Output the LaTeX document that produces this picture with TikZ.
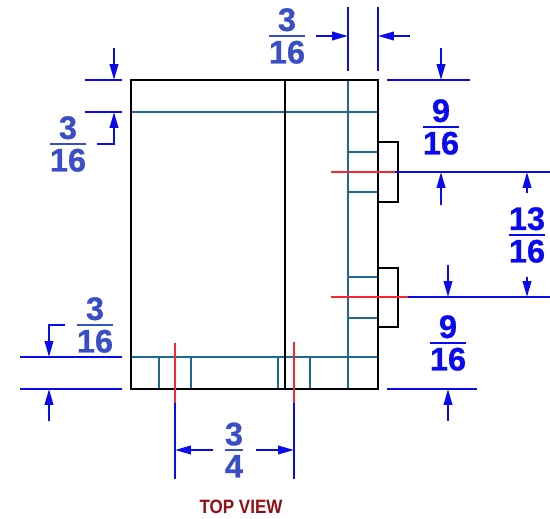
\documentclass[tikz,border=0pt]{standalone}
\usepackage{fontspec}
\setmainfont{Liberation Sans}
\newfontfamily\dimfont[BoldFeatures={FakeBold=0.8}]{Liberation Sans}
\usetikzlibrary{arrows.meta}
\definecolor{dimblue}{RGB}{10,10,240}
\definecolor{softblue}{RGB}{58,78,200}
\definecolor{hiddenblue}{RGB}{30,105,145}
\definecolor{centerred}{RGB}{245,40,50}
\definecolor{titlered}{RGB}{145,15,20}
\newcommand{\dimfrac}[2]{\vbox{\offinterlineskip\halign{\hfil##\hfil\cr #1\cr
	\noalign{\kern2.1pt\hrule height 1.2pt\kern2.1pt} #2\cr}}}
\tikzset{
	outline/.style={draw=black,line width=1.2pt},
	hidden/.style={draw=hiddenblue,line width=1.2pt},
	longhidden/.style={hidden,dash pattern=on 14pt off 0.25pt},
	centerline/.style={draw=centerred,line width=1.2pt},
	dimline/.style={draw=dimblue,line width=1.2pt},
	dimarrow/.style={dimline,-{Triangle[length=9pt,width=4.8pt]}},
	fraclabel/.style={text=dimblue,font=\fontsize{18.5}{20}\dimfont\bfseries,inner sep=0pt},
	softlabel/.style={fraclabel,text=softblue}
}
\begin{document}
\begin{tikzpicture}[x=0.02cm,y=-0.02cm]
	\useasboundingbox (0,0) rectangle (550,519);
	% hidden lines
	\draw[longhidden] (131,112) -- (378,112);
	\draw[longhidden] (131,357) -- (378,357);
	\draw[longhidden] (348,80) -- (348,389);
	\foreach \y in {152, 192, 277, 318} {
		\draw[hidden] (348,\y) -- (378,\y);
	}
	\foreach \x in {159, 191, 278, 310} {
		\draw[hidden] (\x,357) -- (\x,389);
	}
	% the block and its two tabs
	\draw[outline] (131,80) rectangle (378,389);
	\draw[outline] (285,80) -- (285,389);
	\draw[outline] (378,142) -- (398,142) -- (398,202) -- (378,202);
	\draw[outline] (378,268) -- (398,268) -- (398,327) -- (378,327);
	% center lines and their extensions
	\draw[dimline] (395,172) -- (550,172);
	\draw[dimline] (408,297) -- (550,297);
	\draw[dimline] (175,403) -- (175,479);
	\draw[dimline] (294,403) -- (294,479);
	\draw[centerline] (331,172) -- (395,172);
	\draw[centerline] (331,297) -- (408,297);
	\draw[centerline] (175,343) -- (175,403);
	\draw[centerline] (294,342) -- (294,403);
	% top dimension
	\draw[dimline] (348,7) -- (348,71);
	\draw[dimline] (378,7) -- (378,71);
	\draw[dimarrow] (316,36) -- (348,36);
	\draw[dimarrow] (410,36) -- (378,36);
	\node[softlabel] (topfrac) at (287,36) {\dimfrac{3}{16}};
	% right dimensions
	\draw[dimline] (387,80) -- (470,80);
	\draw[dimarrow] (441,48) -- (441,80);
	\draw[dimarrow] (441,205) -- (441,172);
	\node[fraclabel] (upperfrac) at (441,127) {\dimfrac{9}{16}};
	\draw[dimarrow] (527,193) -- (527,172);
	\draw[dimarrow] (527,277) -- (527,297);
	\node[fraclabel] (midfrac) at (527,235) {\dimfrac{13}{16}};
	\draw[dimline] (387,389) -- (477,389);
	\draw[dimarrow] (448,265) -- (448,297);
	\draw[dimarrow] (448,421) -- (448,389);
	\node[fraclabel] (lowerfrac) at (448,343) {\dimfrac{9}{16}};
	% left dimensions
	\foreach \y in {80, 112} {
		\draw[dimline] (85,\y) -- (122,\y);
	}
	\draw[dimarrow] (114,48) -- (114,80);
	\draw[dimarrow] (97,144) -- (114,144) -- (114,112);
	\node[softlabel] (leftfrac) at (68,144) {\dimfrac{3}{16}};
	\foreach \y in {357, 389} {
		\draw[dimline] (20,\y) -- (122,\y);
	}
	\draw[dimarrow] (65,325) -- (49,325) -- (49,357);
	\draw[dimarrow] (49,421) -- (49,389);
	\node[softlabel] (bottomfrac) at (95,325) {\dimfrac{3}{16}};
	% bottom dimension
	\draw[dimarrow] (213,450) -- (175,450);
	\draw[dimarrow] (256,450) -- (294,450);
	\node[softlabel] (widthfrac) at (234,450) {\dimfrac{3}{4}};
	% title
	\node[text=titlered,font=\fontsize{11}{12}\selectfont\bfseries,inner sep=0pt] (viewtitle) at (241,507) {\scalebox{.88}[1]{TOP VIEW}};
\end{tikzpicture}
\end{document}
